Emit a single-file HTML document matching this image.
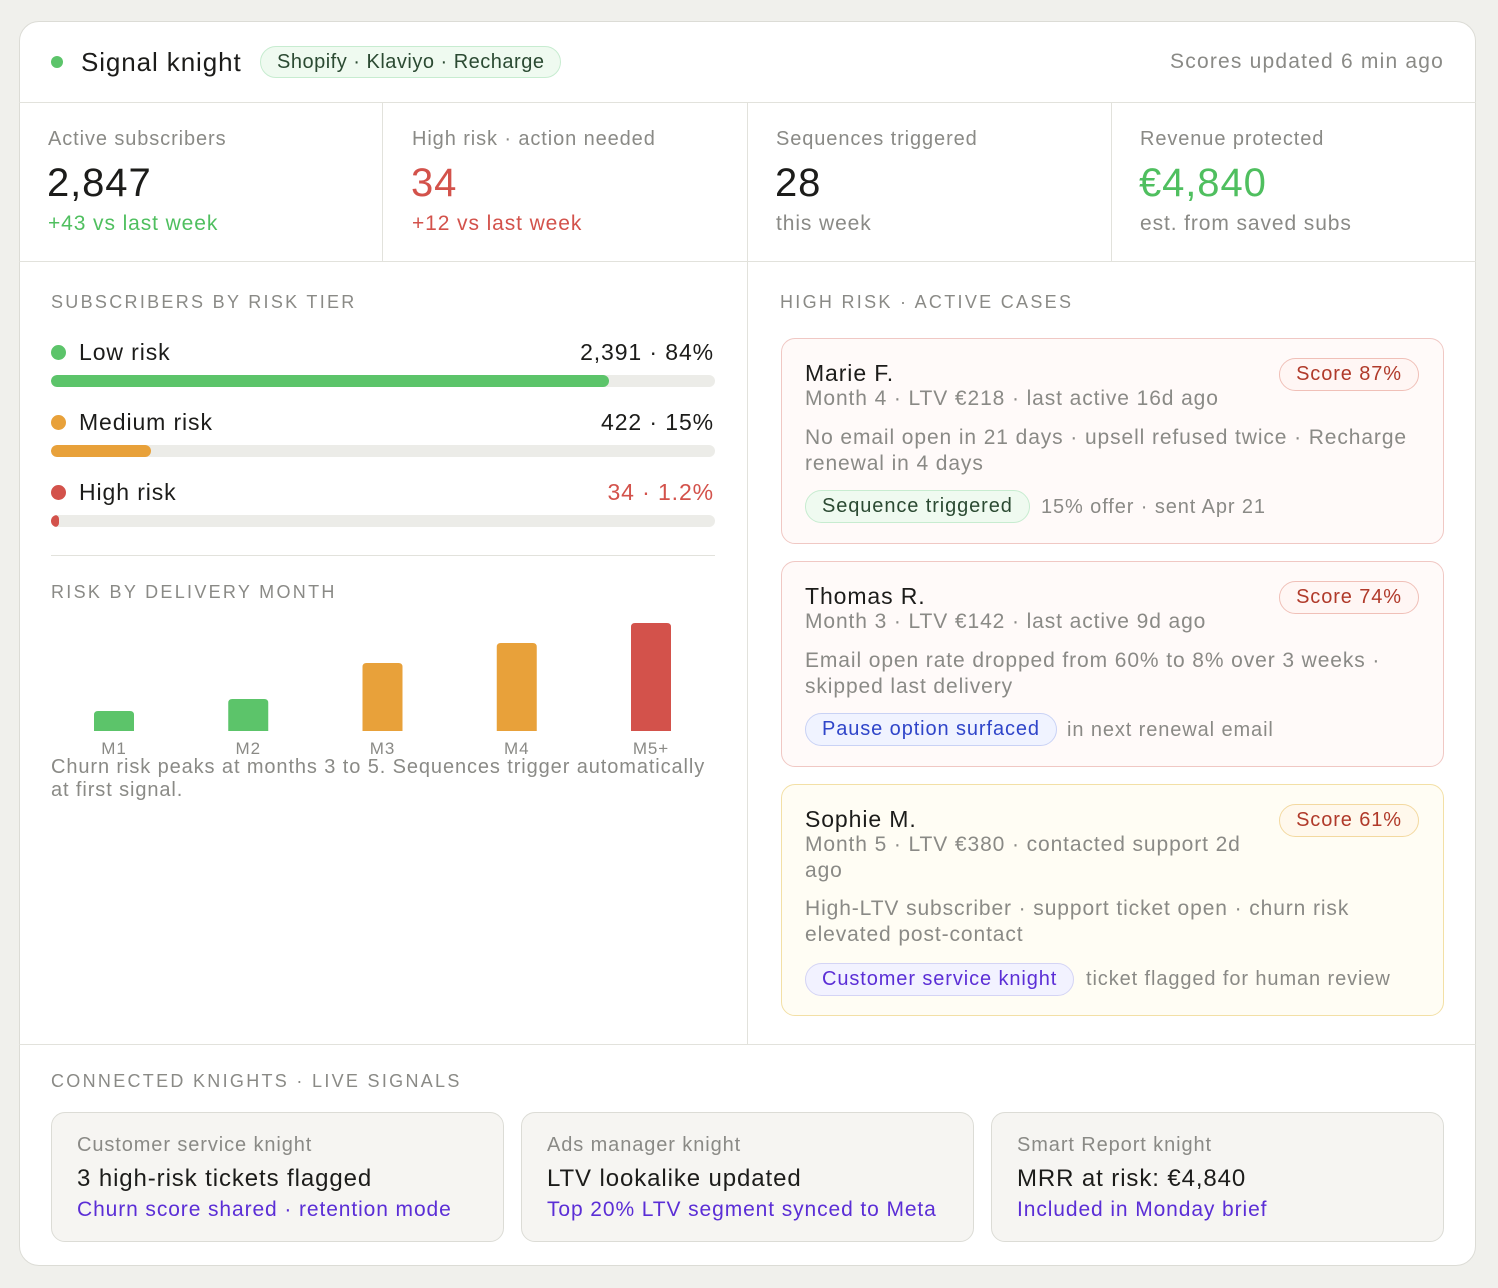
<!DOCTYPE html>
<html><head><meta charset="utf-8"><style>
*{box-sizing:border-box;margin:0;padding:0}
body{width:1498px;height:1288px;background:#f0f0ec;font-family:"Liberation Sans",sans-serif;position:relative;overflow:hidden;color:#1c1c1a;letter-spacing:0.9px}
.a{position:absolute;white-space:nowrap}
.card{position:absolute;left:19px;top:21px;width:1457px;height:1245px;background:#fff;border:1px solid #dcdcd6;border-radius:20px}
.g{color:#8a8a86}
.st{font-size:18px;letter-spacing:2.3px;color:#8a8a86;line-height:24px}
.hl{position:absolute;background:#e2e2dc}
.case{position:absolute;left:781px;width:663px;border-radius:14px;border:1px solid #f0c8c4;background:#fffaf9}
.pill{position:absolute;border-radius:17px;font-size:20px;line-height:31px;padding:0 16px}
.kn{position:absolute;top:1112px;width:453px;height:130px;background:#f6f5f2;border:1px solid #dcdcd6;border-radius:14px}
.kn .a{left:25px}
.pur{color:#5b2ed6}
</style></head><body>
<div class="card"></div>
<div class="a" style="left:51px;top:56px;width:12px;height:12px;border-radius:6px;background:#5cc46a"></div>
<div class="a" style="left:81px;top:46px;font-size:26px;line-height:32px">Signal knight</div>
<div class="pill" style="left:260px;top:46px;height:32px;background:#effaf0;border:1px solid #c7ecd0;color:#2b4a32;line-height:30px;letter-spacing:0.5px">Shopify · Klaviyo · Recharge</div>
<div class="a g" style="right:54px;top:49px;font-size:21px;line-height:26px;letter-spacing:1.2px">Scores updated 6 min ago</div>
<div class="hl" style="left:19px;top:102px;width:1457px;height:1px"></div>

<div class="a g" style="left:48px;top:127px;font-size:20px;line-height:24px">Active subscribers</div>
<div class="a" style="left:47px;top:160px;font-size:40px;line-height:46px">2,847</div>
<div class="a" style="left:48px;top:211px;font-size:21px;line-height:26px;color:#4fbf5f">+43 vs last week</div>
<div class="hl" style="left:382px;top:102px;width:1px;height:159px"></div>
<div class="a g" style="left:412px;top:127px;font-size:20px;line-height:24px">High risk · action needed</div>
<div class="a" style="left:411px;top:160px;font-size:40px;line-height:46px;color:#d3524b">34</div>
<div class="a" style="left:412px;top:211px;font-size:21px;line-height:26px;color:#d3524b">+12 vs last week</div>
<div class="hl" style="left:747px;top:102px;width:1px;height:942px"></div>
<div class="a g" style="left:776px;top:127px;font-size:20px;line-height:24px">Sequences triggered</div>
<div class="a" style="left:775px;top:160px;font-size:40px;line-height:46px">28</div>
<div class="a g" style="left:776px;top:211px;font-size:21px;line-height:26px">this week</div>
<div class="hl" style="left:1111px;top:102px;width:1px;height:159px"></div>
<div class="a g" style="left:1140px;top:127px;font-size:20px;line-height:24px">Revenue protected</div>
<div class="a" style="left:1139px;top:160px;font-size:40px;line-height:46px;color:#4fbf5f">€4,840</div>
<div class="a g" style="left:1140px;top:211px;font-size:21px;line-height:26px">est. from saved subs</div>
<div class="hl" style="left:19px;top:261px;width:1457px;height:1px"></div>

<div class="a st" style="left:51px;top:290px">SUBSCRIBERS BY RISK TIER</div>
<div id="tiers"></div>
<div class="hl" style="left:51px;top:555px;width:664px;height:1px"></div>
<div class="a st" style="left:51px;top:580px">RISK BY DELIVERY MONTH</div>
<svg class="a" id="chart" style="left:0;top:600px" width="747" height="160"></svg>
<div class="a g" style="left:51px;top:756px;font-size:20px;line-height:23px;white-space:normal;width:660px">Churn risk peaks at months 3 to 5. Sequences trigger automatically at first signal.</div>

<div class="a st" style="left:780px;top:290px">HIGH RISK · ACTIVE CASES</div>

<div class="case" style="top:338px;height:206px"></div>
<div class="a" style="left:805px;top:360px;font-size:23px;line-height:27px">Marie F.</div>
<div class="pill" style="right:79px;top:358px;height:33px;border:1px solid #f0c0b8;color:#b03a2a;background:#fff6f4">Score 87%</div>
<div class="a g" style="left:805px;top:386px;font-size:21px;line-height:26px">Month 4 · LTV €218 · last active 16d ago</div>
<div class="a g" style="left:805px;top:425px;font-size:21px;line-height:26px;white-space:normal;width:620px">No email open in 21 days · upsell refused twice · Recharge renewal in 4 days</div>
<div class="pill" style="left:805px;top:490px;height:33px;background:#effaf0;border:1px solid #c7ecd0;color:#2b4a32">Sequence triggered</div>
<div class="a g" style="left:1041px;top:494px;font-size:20px;line-height:26px">15% offer · sent Apr 21</div>

<div class="case" style="top:561px;height:206px"></div>
<div class="a" style="left:805px;top:583px;font-size:23px;line-height:27px">Thomas R.</div>
<div class="pill" style="right:79px;top:581px;height:33px;border:1px solid #f0c0b8;color:#b03a2a;background:#fff6f4">Score 74%</div>
<div class="a g" style="left:805px;top:609px;font-size:21px;line-height:26px">Month 3 · LTV €142 · last active 9d ago</div>
<div class="a g" style="left:805px;top:648px;font-size:21px;line-height:26px;white-space:normal;width:620px">Email open rate dropped from 60% to 8% over 3 weeks · skipped last delivery</div>
<div class="pill" style="left:805px;top:713px;height:33px;background:#f0f3ff;border:1px solid #c9d2f5;color:#2f45c9">Pause option surfaced</div>
<div class="a g" style="left:1067px;top:717px;font-size:20px;line-height:26px">in next renewal email</div>

<div class="case" style="top:784px;height:232px;border-color:#f3e0a6;background:#fffdf4"></div>
<div class="a" style="left:805px;top:806px;font-size:23px;line-height:27px">Sophie M.</div>
<div class="pill" style="right:79px;top:804px;height:33px;border:1px solid #f3d9a0;color:#b03a2a;background:#fff8ec">Score 61%</div>
<div class="a g" style="left:805px;top:832px;font-size:21px;line-height:26px;white-space:normal;width:460px">Month 5 · LTV €380 · contacted support 2d ago</div>
<div class="a g" style="left:805px;top:896px;font-size:21px;line-height:26px;white-space:normal;width:620px">High-LTV subscriber · support ticket open · churn risk elevated post-contact</div>
<div class="pill" style="left:805px;top:963px;height:33px;background:#f2f2ff;border:1px solid #d4d4f5;color:#5b2ed6">Customer service knight</div>
<div class="a g" style="left:1086px;top:966px;font-size:20px;line-height:26px">ticket flagged for human review</div>

<div class="hl" style="left:19px;top:1044px;width:1457px;height:1px"></div>
<div class="a st" style="left:51px;top:1069px">CONNECTED KNIGHTS · LIVE SIGNALS</div>
<div class="kn" style="left:51px">
 <div class="a g" style="top:20px;font-size:20px;line-height:24px">Customer service knight</div>
 <div class="a" style="top:52px;font-size:24px;line-height:28px">3 high-risk tickets flagged</div>
 <div class="a pur" style="top:84px;font-size:21px;line-height:26px">Churn score shared · retention mode</div>
</div>
<div class="kn" style="left:521px">
 <div class="a g" style="top:20px;font-size:20px;line-height:24px">Ads manager knight</div>
 <div class="a" style="top:52px;font-size:24px;line-height:28px">LTV lookalike updated</div>
 <div class="a pur" style="top:84px;font-size:21px;line-height:26px">Top 20% LTV segment synced to Meta</div>
</div>
<div class="kn" style="left:991px">
 <div class="a g" style="top:20px;font-size:20px;line-height:24px">Smart Report knight</div>
 <div class="a" style="top:52px;font-size:24px;line-height:28px">MRR at risk: €4,840</div>
 <div class="a pur" style="top:84px;font-size:21px;line-height:26px">Included in Monday brief</div>
</div>

<script>
const tierNames=["Low risk","Medium risk","High risk"];
const tierCounts=["2,391","422","34"];
const tierPcts=[84,15,1.2];
const tierColors=["#5cc46a","#e8a13a","#d3524b"];
const months=["M1","M2","M3","M4","M5+"];
const monthRisk=[10,16,34,44,54];
const monthColors=["#5cc46a","#5cc46a","#e8a13a","#e8a13a","#d3524b"];

const tiers=document.getElementById('tiers');
const pctLabel=p=>(p%1?p.toFixed(1):p)+'%';
tierNames.forEach((n,i)=>{
  const y=338+i*70;
  const d=document.createElement('div');d.className='a';
  
  
  d.style.cssText=`left:51px;top:${y+7}px;width:15px;height:15px;border-radius:8px;background:${tierColors[i]}`;
  tiers.appendChild(d);
  const l=document.createElement('div');l.className='a';
  
  
  l.style.cssText=`left:79px;top:${y}px;font-size:23px;line-height:28px`;l.textContent=n;tiers.appendChild(l);
  const v=document.createElement('div');v.className='a';
  
  
  v.style.cssText=`right:784px;top:${y}px;font-size:23px;line-height:28px;color:${i==2?'#d3524b':'#1c1c1a'}`;v.textContent=tierCounts[i]+' · '+pctLabel(tierPcts[i]);tiers.appendChild(v);
  const t=document.createElement('div');t.className='a';
  
  
  t.style.cssText=`left:51px;top:${y+37}px;width:664px;height:12px;border-radius:6px;background:#ececE8;overflow:hidden`;
  const f=document.createElement('div');
  
  
  f.style.cssText=`width:${Math.max(8,664*tierPcts[i]/100)}px;height:12px;border-radius:6px;background:${tierColors[i]}`;
  t.appendChild(f);tiers.appendChild(t);
});

const svg=document.getElementById('chart');const NS='http://www.w3.org/2000/svg';
const base=131, maxH=108, maxV=54;
const xC=i=>114+i*134.25, yH=v=>v/maxV*maxH;
months.forEach((m,i)=>{
  const h=yH(monthRisk[i]);
  const p=document.createElementNS(NS,'path');
  
  
  const x=xC(i)-20,y=base-h,r=4;
  p.setAttribute('d',`M${x},${base}V${y+r}Q${x},${y} ${x+r},${y}H${x+40-r}Q${x+40},${y} ${x+40},${y+r}V${base}Z`);
  p.setAttribute('fill',monthColors[i]);svg.appendChild(p);
  const t=document.createElementNS(NS,'text');
  
  
  t.setAttribute('x',xC(i));t.setAttribute('y',base+23);t.setAttribute('text-anchor','middle');
  t.setAttribute('font-size','17');t.setAttribute('fill','#8a8a86');t.setAttribute('font-family','Liberation Sans, sans-serif');
  t.textContent=m;svg.appendChild(t);
});
</script>
</body></html>
